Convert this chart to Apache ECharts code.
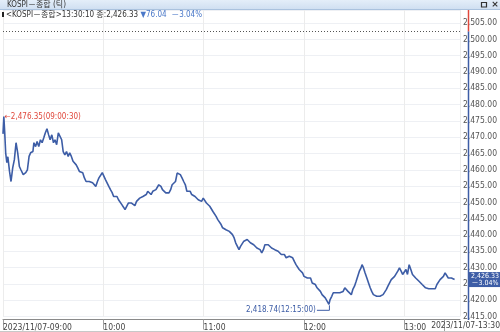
<!DOCTYPE html>
<html><head><meta charset="utf-8">
<script src="https://cdn.jsdelivr.net/npm/echarts@6/dist/echarts.min.js"></script>
<style>html,body{margin:0;padding:0;background:#fff}#c{width:500px;height:332px}</style>
</head><body><div id="c"></div><script>
// minutes since 09:00
const times = [0,0.5,1.0,1.6,2.3,2.9,3.9,4.8,5.8,6.8,7.8,8.8,9.8,10.7,12.1,13.6,14.6,15.6,16.5,17.9,18.5,19.5,20.4,21.4,22.4,23.4,24.4,25.3,26.3,27.3,28.2,29.2,30.2,31.1,32.1,33.1,34.1,35.1,36.0,37.0,38.0,39.0,39.9,40.9,41.9,42.8,43.8,44.8,45.7,46.7,47.7,48.7,49.7,50.6,51.6,52.6,53.6,54.5,55.5,56.5,57.4,59.4,60.3,61.3,62.3,63.3,64.3,65.3,66.2,67.2,68.2,69.1,70.1,71.1,72.0,73.0,74.0,75.0,75.9,76.9,77.9,78.9,79.9,80.8,81.8,82.8,83.7,84.7,85.7,86.6,87.6,88.6,89.6,90.5,91.5,93.2,94.5,95.4,96.4,97.4,98.3,99.3,100.3,101.2,102.2,103.2,104.2,105.2,106.1,107.1,108.1,109.1,110.0,111.0,112.0,112.9,113.9,114.9,115.8,116.8,117.8,118.8,119.8,120.8,121.7,122.7,123.7,124.6,125.6,126.6,127.5,128.5,129.5,130.5,131.4,132.4,133.4,134.4,135.4,136.3,137.3,138.3,139.2,140.2,141.2,142.1,143.1,144.1,145.1,146.1,147.0,148.0,149.0,150.0,150.9,151.9,152.9,153.8,154.8,155.8,156.7,157.7,158.7,159.7,160.7,161.6,162.6,163.6,164.6,165.5,166.5,167.5,168.4,169.4,170.4,171.3,172.3,173.3,174.3,175.3,176.2,177.2,178.2,179.2,180.1,181.1,182.1,183.0,184.0,185.0,186.0,186.9,187.9,188.9,189.9,190.9,191.8,192.8,193.8,195.0,195.7,196.7,197.6,198.6,199.6,200.6,201.5,202.5,203.5,204.5,205.5,206.4,207.4,208.4,209.3,210.3,211.3,212.2,213.2,214.2,214.8,215.7,216.6,217.7,218.7,219.7,220.6,221.6,222.6,223.6,224.5,225.5,226.5,227.4,228.4,229.4,230.3,231.3,232.3,233.3,234.3,235.3,236.2,237.2,238.2,239.1,240.1,241.1,242.0,243.0,244.0,245.0,245.9,246.9,247.9,248.9,249.9,250.8,251.8,252.8,253.7,254.7,255.7,256.6,257.6,258.6,259.6,260.6,261.5,262.5,263.5,264.5,265.4,266.4,267.4,268.3,269.3,270.17];
const prices = [2471.0,2476.35,2471.7,2465.2,2462.2,2464.0,2459.5,2456.4,2460.6,2463.1,2468.3,2465.2,2461.0,2460.0,2458.5,2459.1,2460.0,2464.1,2465.2,2465.6,2468.3,2467.1,2468.7,2467.1,2469.2,2468.3,2469.8,2471.3,2472.6,2470.7,2469.2,2470.7,2468.3,2469.2,2467.7,2471.3,2470.7,2469.2,2465.6,2464.6,2465.6,2464.1,2465.2,2464.1,2462.6,2463.1,2461.5,2460.5,2459.5,2460.0,2459.1,2457.5,2456.4,2457.0,2456.4,2457.0,2456.0,2455.4,2454.9,2456.4,2457.5,2459.1,2458.5,2457.0,2456.4,2454.9,2453.9,2453.0,2451.8,2451.3,2451.8,2450.8,2450.3,2449.3,2448.6,2447.8,2448.8,2449.8,2449.3,2449.8,2449.3,2449.0,2450.3,2450.8,2451.3,2450.8,2451.8,2451.3,2452.4,2453.4,2453.0,2452.4,2453.4,2453.0,2453.9,2455.4,2454.9,2453.9,2453.4,2452.9,2453.4,2452.9,2453.9,2455.4,2455.9,2456.4,2459.0,2459.5,2458.5,2457.5,2456.4,2455.4,2453.4,2452.9,2453.4,2452.4,2452.9,2451.8,2452.4,2450.8,2450.3,2450.3,2451.3,2450.8,2449.8,2449.3,2448.8,2448.3,2447.2,2446.8,2445.7,2444.7,2444.2,2443.2,2442.2,2442.2,2441.6,2442.2,2441.1,2441.6,2440.1,2439.1,2437.6,2437.0,2435.5,2436.5,2437.0,2438.1,2437.6,2438.6,2438.1,2437.6,2438.1,2437.0,2436.5,2436.0,2436.3,2435.5,2434.5,2435.5,2437.0,2437.6,2437.0,2436.5,2436.0,2436.0,2435.5,2436.0,2435.0,2434.5,2434.0,2433.5,2434.0,2433.0,2432.5,2433.5,2433.0,2433.0,2431.9,2430.9,2430.4,2429.4,2428.9,2428.4,2427.3,2427.0,2426.8,2426.3,2426.8,2425.3,2425.8,2424.8,2423.8,2423.3,2422.7,2421.7,2421.2,2420.7,2420.2,2418.74,2420.2,2421.2,2422.3,2422.7,2422.3,2422.7,2422.3,2421.7,2422.7,2423.8,2423.3,2422.7,2422.3,2421.7,2423.3,2424.3,2425.8,2427.3,2428.9,2429.9,2430.9,2429.9,2428.4,2426.8,2425.3,2423.8,2422.7,2421.7,2422.3,2421.2,2421.7,2421.2,2420.7,2421.7,2422.3,2423.3,2424.3,2425.3,2426.3,2426.8,2427.3,2427.9,2428.9,2429.9,2428.9,2427.9,2428.4,2429.4,2427.9,2430.9,2429.4,2427.9,2427.3,2426.8,2426.3,2425.8,2425.3,2424.8,2424.3,2423.8,2423.8,2423.5,2423.8,2423.5,2423.8,2423.5,2424.8,2425.3,2426.3,2426.8,2427.3,2428.4,2427.9,2426.8,2427.3,2426.8,2426.3,2426.33];
const prevClose = 2502.37;
const lastPrice = 2426.33;
const lastTime = '13:30:10';
const changeText = '▼76.04';
const changePctText = '－3.04%';
const xTickLabels = {0:'2023/11/07-09:00',60:'10:00',120:'11:00',180:'12:00',240:'13:00'};
const xEndLabel = '2023/11/07-13:30';
const highPoint = {t:0.5, v:2476.35, text:'2,476.35(09:00:30)'};
const lowPoint = {t:195, v:2418.74, text:'2,418.74(12:15:00)'};
const titleText = 'KOSPI－종합 (틱)';
const seriesName = 'KOSPI－종합';

const F = "'Liberation Sans Narrow','DejaVu Sans Condensed','Noto Sans CJK KR',sans-serif";
const BLUE = '#3d5da6';
const RED = '#e0483c';
const fmt = v => v.toLocaleString('en-US',{minimumFractionDigits:2,maximumFractionDigits:2});

const chart = echarts.init(document.getElementById('c'), null, {renderer:'canvas'});
chart.setOption({
  animation:false,
  grid:{left:0,right:32,top:10,bottom:15},
  xAxis:{type:'value',min:0,max:273.4,interval:60,offset:3,
    axisLine:{lineStyle:{color:'#8a8a8a'}},
    axisTick:{show:true,length:10,lineStyle:{color:'#a0a0a0'}},
    axisLabel:{formatter:v=>xTickLabels[v]||'',align:'left',margin:4,fontSize:8.5,color:'#444',fontFamily:F,showMaxLabel:false},
    splitLine:{show:true,lineStyle:{color:'#ececec'}}},
  yAxis:{type:'value',position:'right',min:2415,max:2509,interval:5,
    axisLine:{show:false},axisTick:{show:false},
    axisLabel:{formatter:v=>(v%5===0&&v<=2505)?fmt(v):'',margin:3,fontSize:8.5,color:'#555',fontFamily:F},
    splitLine:{lineStyle:{color:'#eef0f4'}}},
  series:[{type:'line',name:seriesName,showSymbol:false,
    data:times.map((t,i)=>[t,prices[i]]),
    lineStyle:{color:BLUE,width:1.6},
    markLine:{silent:true,symbol:'none',animation:false,data:[
      {yAxis:prevClose,lineStyle:{type:[1,2],color:'#555',width:1},label:{show:false}}
    ]}
  }]
});

function decorate(){
  const p = (t,v)=>chart.convertToPixel({gridIndex:0},[t,v]);
  const pc = p(0,prevClose);
  const hi = p(highPoint.t,highPoint.v);
  const lo = p(lowPoint.t,lowPoint.v);
  const lp = p(0,lastPrice);
  const ax = 468.5;
  chart.setOption({graphic:[
    {type:'rect',shape:{x:0,y:0,width:500,height:9.5},style:{fill:new echarts.graphic.LinearGradient(0,0,0,1,[{offset:0,color:'#e4eef9'},{offset:1,color:'#cfdff1'}])},z:10},
    {type:'line',shape:{x1:0,y1:9.5,x2:500,y2:9.5},style:{stroke:'#aac2de',lineWidth:1},z:10},
    {type:'text',x:7,y:5,style:{text:titleText,fontSize:8,fill:'#333',fontFamily:F,verticalAlign:'middle'},z:11},
    {type:'rect',shape:{x:481.5,y:2.5,width:5,height:4.5},style:{fill:'none',stroke:'#333',lineWidth:1.2},z:11},
    {type:'text',x:495,y:5,style:{text:'×',fontSize:9,fill:'#333',fontWeight:'bold',align:'center',verticalAlign:'middle',fontFamily:'DejaVu Sans'},z:11},
    {type:'rect',shape:{x:2,y:12,width:2,height:5},style:{fill:'#222'},z:11},
    {type:'text',x:6,y:15,style:{rich:{a:{fontSize:8,fill:'#333',fontFamily:F},b:{fontSize:8,fill:'#4a78c8',fontFamily:F}},
      text:'{a|<'+seriesName+'>'+lastTime+' 종:'+fmt(lastPrice)+' }{b|'+changeText+'  '+changePctText+'}',verticalAlign:'middle'},z:11},
    {type:'line',shape:{x1:ax,y1:10,x2:ax,y2:pc[1]},style:{stroke:RED,lineWidth:1.5},z:5},
    {type:'line',shape:{x1:ax,y1:pc[1],x2:ax,y2:320},style:{stroke:BLUE,lineWidth:1.5},z:5},
    {type:'rect',shape:{x:469,y:lp[1]-7.5,width:31,height:15},style:{fill:BLUE},z:12},
    {type:'text',x:485,y:lp[1]-3.5,style:{text:fmt(lastPrice),fontSize:7,fill:'#fff',fontFamily:F,align:'center',verticalAlign:'middle'},z:13},
    {type:'text',x:485,y:lp[1]+3.5,style:{text:changePctText,fontSize:7,fill:'#fff',fontFamily:F,align:'center',verticalAlign:'middle'},z:13},
    {type:'text',x:hi[0]+1,y:hi[1],style:{text:'←'+highPoint.text,fontSize:8,fill:RED,fontFamily:F,verticalAlign:'middle'},z:6},
    {type:'polyline',shape:{points:[[lo[0]+0.5,lo[1]+1],[lo[0]+0.5,lo[1]+6],[lo[0]-12,lo[1]+6]]},style:{stroke:BLUE,lineWidth:1,fill:null},z:6},
    {type:'text',x:lo[0]-13,y:lo[1]+6,style:{text:lowPoint.text,fontSize:8,fill:BLUE,fontFamily:F,align:'right',verticalAlign:'middle'},z:6},
    {type:'line',shape:{x1:444.5,y1:320,x2:444.5,y2:331},style:{stroke:'#a0a0a0',lineWidth:1},z:6},
    {type:'text',x:500,y:326,style:{text:xEndLabel,fontSize:8.5,fill:'#444',fontFamily:F,align:'right',verticalAlign:'middle'},z:6},
    {type:'line',shape:{x1:0,y1:331.5,x2:500,y2:331.5},style:{stroke:'#c8c8c8',lineWidth:1},z:6}
  ]});
}
decorate();
</script></body></html>
